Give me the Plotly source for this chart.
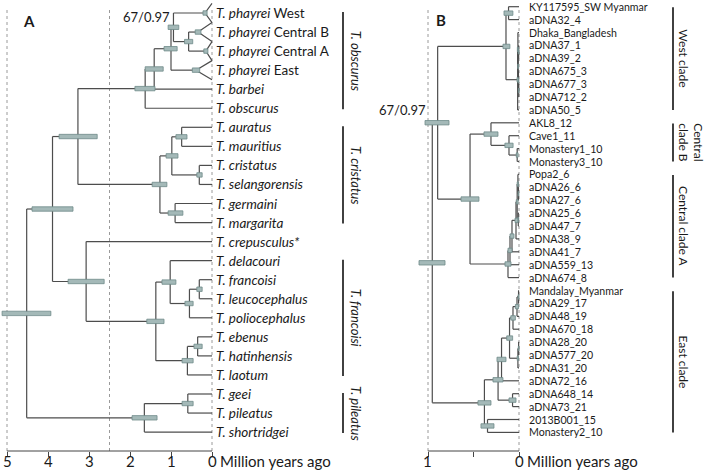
import plotly.graph_objects as go

W, H = 708, 476
FONT = "Lato"

# ======================= Panel A : species tree =======================
a_tip_italic = ["T. phayrei", "T. phayrei", "T. phayrei", "T. phayrei", "T. barbei",
                "T. obscurus", "T. auratus", "T. mauritius", "T. cristatus",
                "T. selangorensis", "T. germaini", "T. margarita", "T. crepusculus*",
                "T. delacouri", "T. francoisi", "T. leucocephalus", "T. poliocephalus",
                "T. ebenus", "T. hatinhensis", "T. laotum", "T. geei", "T. pileatus",
                "T. shortridgei"]
a_tip_suffix = ["West", "Central B", "Central A", "East"] + [""] * 19

# collapsed (triangle) tips: crown age and 95% HPD
a_collapsed_tips = [0, 1, 2, 3]
a_collapsed_age = [0.17, 0.34, 0.15, 0.39]
a_collapsed_lo = [0.12, 0.27, 0.10, 0.30]
a_collapsed_hi = [0.22, 0.41, 0.20, 0.48]

a_node_names = ["cbca", "wcb", "phay", "barb", "obsc", "aurmau", "crisel", "am_cs",
                "germar", "crist", "ob_cr", "fraleu", "flp", "dfl", "ebhat", "ehl",
                "fcore", "crep", "big", "geipil", "pile", "root"]
a_node_age = [0.57, 0.94, 1.00, 1.41, 1.63, 0.74, 0.31, 0.98,
              0.90, 1.27, 3.27, 0.31, 0.55, 1.02, 0.35, 0.60,
              1.37, 3.07, 3.89, 0.59, 1.65, 4.52]
a_node_lo = [0.47, 0.81, 0.85, 1.19, 1.39, 0.61, 0.24, 0.83,
             0.71, 1.10, 2.80, 0.24, 0.46, 0.88, 0.24, 0.46,
             1.17, 2.63, 3.39, 0.46, 1.34, 3.93]
a_node_hi = [0.67, 1.07, 1.17, 1.63, 1.88, 0.88, 0.37, 1.12,
             1.07, 1.46, 3.73, 0.37, 0.66, 1.22, 0.44, 0.73,
             1.59, 3.51, 4.39, 0.73, 1.95, 5.12]
a_node_children = [[1, 2], [0, "cbca"], ["wcb", 3], ["phay", 4], ["barb", 5],
                   [6, 7], [8, 9], ["aurmau", "crisel"], [10, 11], ["am_cs", "germar"],
                   ["obsc", "crist"], [14, 15], ["fraleu", 16], [13, "flp"], [17, 18],
                   ["ebhat", 19], ["dfl", "ehl"], [12, "fcore"], ["ob_cr", "crep"],
                   [20, 21], ["geipil", 22], ["big", "pile"]]

a_clade_labels = ["T. obscurus", "T. cristatus", "T. francoisi", "T. pileatus"]
a_clade_first = [0, 6, 13, 20]
a_clade_last = [5, 11, 19, 22]

a_ticks = [5, 4, 3, 2, 1, 0]
a_tick_text = ["5", "4", "3", "2", "1", "0"]
a_gridlines = [5, 2.5, 0]
a_support_node = "wcb"
a_support_text = "67/0.97"

# ======================= Panel B : haplotype tree =======================
b_tips = ["KY117595_SW Myanmar", "aDNA32_4", "Dhaka_Bangladesh", "aDNA37_1", "aDNA39_2",
          "aDNA675_3", "aDNA677_3", "aDNA712_2", "aDNA50_5", "AKL8_12", "Cave1_11",
          "Monastery1_10", "Monastery3_10", "Popa2_6", "aDNA26_6", "aDNA27_6", "aDNA25_6",
          "aDNA47_7", "aDNA38_9", "aDNA41_7", "aDNA559_13", "aDNA674_8", "Mandalay_Myanmar",
          "aDNA29_17", "aDNA48_19", "aDNA670_18", "aDNA28_20", "aDNA577_20", "aDNA31_20",
          "aDNA72_16", "aDNA648_14", "aDNA73_21", "2013B001_15", "Monastery2_10"]

b_node_names = ["w1", "w5", "w7", "w6", "w4", "w3", "w2", "wroot",
                "cb3", "cb2", "cbroot",
                "a7", "a5", "a6", "a4", "a3", "a2", "a1", "caroot",
                "cbca", "wcc",
                "e7", "e7b", "e5", "e6a", "e6", "e4", "e2", "e3", "e1", "eout", "east",
                "root"]
b_node_age = [0.115, 0.004, 0.003, 0.006, 0.009, 0.012, 0.015, 0.143,
              0.020, 0.110, 0.308,
              0.006, 0.012, 0.008, 0.020, 0.033, 0.077, 0.099, 0.121,
              0.538, 0.894,
              0.005, 0.022, 0.066, 0.004, 0.012, 0.104, 0.192, 0.071, 0.230, 0.346, 0.380,
              0.953]
b_node_lo = [0.067, 0.000, 0.000, 0.002, 0.004, 0.006, 0.008, 0.100,
             0.010, 0.065, 0.231,
             0.002, 0.005, 0.003, 0.010, 0.012, 0.055, 0.077, 0.088,
             0.440, 0.769,
             0.001, 0.005, 0.040, 0.000, 0.005, 0.070, 0.143, 0.033, 0.176, 0.275, 0.308,
             0.813]
b_node_hi = [0.165, 0.008, 0.006, 0.010, 0.014, 0.018, 0.022, 0.176,
             0.030, 0.155, 0.385,
             0.010, 0.020, 0.013, 0.030, 0.044, 0.099, 0.121, 0.154,
             0.637, 1.033,
             0.010, 0.040, 0.090, 0.008, 0.020, 0.135, 0.242, 0.110, 0.286, 0.418, 0.451,
             1.099]
b_node_children = [[0, 1], [3, 4], [6, 7], [5, "w7"], ["w5", "w6"], [2, "w4"], ["w3", 8],
                   ["w1", "w2"],
                   [11, 12], [10, "cb3"], [9, "cb2"],
                   [14, 15], [13, "a7"], [16, 17], ["a5", "a6"], ["a4", 18], ["a3", 19],
                   ["a2", 20], ["a1", 21],
                   ["cbroot", "caroot"], ["wroot", "cbca"],
                   [22, 23], ["e7", 24], ["e7b", 25], [26, 27], ["e6a", 28], ["e5", "e6"],
                   ["e4", 29], [30, 31], ["e2", "e3"], [32, 33], ["e1", "eout"],
                   ["wcc", "east"]]

b_clade_labels = ["West clade", "Central<br>clade B", "Central clade A", "East clade"]
b_clade_first = [0, 9, 13, 22]
b_clade_last = [8, 12, 21, 33]

b_ticks = [1, 0.5, 0]
b_tick_text = ["1", "", "0"]
b_gridlines = [1, 0]
b_support_node = "wcc"
b_support_text = "67/0.97"

# ======================= geometry (pixels) =======================
AXIS_Y = 451          # pixel row of the time axis
TOP_Y = 8             # top of dotted guide lines
TICKLAB_Y = 461       # centre of tick labels
A_ZERO, A_PPM, A_ROW0, A_STEP, A_DOM = 212, 41.0, 13.0, 19.05, (0, 216)
B_ZERO, B_PPM, B_ROW0, B_STEP, B_DOM = 519, 91.0, 6.7, 12.9, (415, 522)

LINE_COLOR = "#4d4d4d"
BOX_FILL = "#a4b9b8"
BOX_LINE = "#6f8a89"
TXT = "#1a1a1a"

fig = go.Figure()
shapes = []
annotations = []


def px2paper_y(p):
    return 1 - p / H


def build(xref, yref, ntips, tip_age, names, ages, los, his, children, box_half, collapsed):
    pos = {i: float(i) for i in range(ntips)}
    age = {i: tip_age[i] for i in range(ntips)}
    xs, ys = [], []
    for nm, ag, lo, hi, ch in zip(names, ages, los, his, children):
        cy = [pos[c] for c in ch]
        y = (min(cy) + max(cy)) / 2
        pos[nm] = y
        age[nm] = ag
        xs += [ag, ag, None]
        ys += [min(cy), max(cy), None]
        for c in ch:
            xs += [ag, age[c], None]
            ys += [pos[c], pos[c], None]
    # collapsed clades drawn as open triangles
    for (t, ag) in collapsed:
        xs += [0, ag, 0, None]
        ys += [t - 0.5, t, t + 0.5, None]
    fig.add_trace(go.Scatter(x=xs, y=ys, mode="lines", xaxis=xref, yaxis=yref,
                             line=dict(color=LINE_COLOR, width=1.2),
                             hoverinfo="skip", showlegend=False))
    for nm, lo, hi in zip(names, los, his):
        shapes.append(dict(type="rect", xref=xref, yref=yref, x0=lo, x1=hi,
                           y0=pos[nm] - box_half, y1=pos[nm] + box_half,
                           fillcolor=BOX_FILL, line=dict(color=BOX_LINE, width=0.8),
                           layer="above"))
    return pos


# ---- Panel A ----
a_tip_age = [0.0] * len(a_tip_italic)
for t, ag in zip(a_collapsed_tips, a_collapsed_age):
    a_tip_age[t] = ag
posA = build("x", "y", len(a_tip_italic), a_tip_age, a_node_names, a_node_age, a_node_lo,
             a_node_hi, a_node_children, 2.2 / A_STEP,
             list(zip(a_collapsed_tips, a_collapsed_age)))
for t, ag, lo, hi in zip(a_collapsed_tips, a_collapsed_age, a_collapsed_lo, a_collapsed_hi):
    shapes.append(dict(type="rect", xref="x", yref="y", x0=lo, x1=hi,
                       y0=t - 2.2 / A_STEP, y1=t + 2.2 / A_STEP,
                       fillcolor=BOX_FILL, line=dict(color=BOX_LINE, width=0.8), layer="above"))

# ---- Panel B ----
posB = build("x2", "y2", len(b_tips), [0.0] * len(b_tips), b_node_names, b_node_age,
             b_node_lo, b_node_hi, b_node_children, 2.2 / B_STEP, [])

# ---- tip labels ----
for i, (it, sf) in enumerate(zip(a_tip_italic, a_tip_suffix)):
    txt = "<i>%s</i>" % it + ((" " + sf) if sf else "")
    annotations.append(dict(x=0, y=i, xref="x", yref="y", text=txt, showarrow=False,
                            xanchor="left", yanchor="middle", xshift=2,
                            font=dict(family=FONT, size=13.5, color=TXT)))
for i, lab in enumerate(b_tips):
    annotations.append(dict(x=0, y=i, xref="x2", yref="y2", text=lab, showarrow=False,
                            xanchor="left", yanchor="middle", xshift=8,
                            font=dict(family=FONT, size=10.6, color=TXT)))

# ---- clade bars and labels ----
for lab, f, l in zip(a_clade_labels, a_clade_first, a_clade_last):
    shapes.append(dict(type="line", xref="paper", yref="y", x0=343 / W, x1=343 / W,
                       y0=f - 0.05, y1=l + 0.05, line=dict(color="#111", width=1.6)))
    annotations.append(dict(x=356 / W, y=(f + l) / 2, xref="paper", yref="y",
                            text="<i>%s</i>" % lab, textangle=90, showarrow=False,
                            xanchor="center", yanchor="middle",
                            font=dict(family=FONT, size=13, color=TXT)))
for lab, f, l in zip(b_clade_labels, b_clade_first, b_clade_last):
    shapes.append(dict(type="line", xref="paper", yref="y2", x0=673 / W, x1=673 / W,
                       y0=f + 0.05, y1=l, line=dict(color="#111", width=1.6)))
    xl = 691 if "<br>" in lab else 684
    annotations.append(dict(x=xl / W, y=(f + l) / 2, xref="paper", yref="y2",
                            text=lab, textangle=90, showarrow=False,
                            xanchor="center", yanchor="middle",
                            font=dict(family=FONT, size=12, color=TXT)))

# ---- dotted guide lines and axis lines ----
for g in a_gridlines:
    shapes.append(dict(type="line", xref="x", yref="paper", x0=g, x1=g,
                       y0=px2paper_y(AXIS_Y), y1=px2paper_y(TOP_Y),
                       line=dict(color="#9a9a9a", width=1, dash="dot"), layer="below"))
for g in b_gridlines:
    shapes.append(dict(type="line", xref="x2", yref="paper", x0=g, x1=g,
                       y0=px2paper_y(AXIS_Y), y1=px2paper_y(TOP_Y),
                       line=dict(color="#9a9a9a", width=1, dash="dot"), layer="below"))
shapes.append(dict(type="line", xref="x", yref="paper", x0=max(a_ticks), x1=min(a_ticks),
                   y0=px2paper_y(AXIS_Y), y1=px2paper_y(AXIS_Y),
                   line=dict(color="#444", width=1)))
shapes.append(dict(type="line", xref="x2", yref="paper", x0=max(b_ticks), x1=min(b_ticks),
                   y0=px2paper_y(AXIS_Y), y1=px2paper_y(AXIS_Y),
                   line=dict(color="#444", width=1)))

# tick labels (placed on the axis scale)
for xr, tv, tt in [("x", a_ticks, a_tick_text), ("x2", b_ticks, b_tick_text)]:
    for v, s in zip(tv, tt):
        if s:
            annotations.append(dict(x=v, y=px2paper_y(TICKLAB_Y), xref=xr, yref="paper",
                                    text=s, showarrow=False, xanchor="center",
                                    yanchor="middle",
                                    font=dict(family=FONT, size=15, color=TXT)))
    # "Million years ago" after the 0 tick
    annotations.append(dict(x=0, y=px2paper_y(TICKLAB_Y), xref=xr, yref="paper",
                            text="Million years ago", showarrow=False, xanchor="left",
                            yanchor="middle", xshift=6,
                            font=dict(family=FONT, size=15, color=TXT)))

# support values
annotations.append(dict(x=a_node_age[a_node_names.index(a_support_node)],
                        y=posA[a_support_node], xref="x", yref="y", text=a_support_text,
                        showarrow=False, xanchor="right", yanchor="middle",
                        xshift=-1, yshift=10, font=dict(family=FONT, size=13, color=TXT)))
annotations.append(dict(x=b_node_hi[b_node_names.index(b_support_node)],
                        y=posB[b_support_node], xref="x2", yref="y2", text=b_support_text,
                        showarrow=False, xanchor="right", yanchor="middle",
                        xshift=3, yshift=13, font=dict(family=FONT, size=13, color=TXT)))

# panel letters
annotations.append(dict(x=29 / W, y=px2paper_y(21), xref="paper", yref="paper", text="<b>A</b>",
                        showarrow=False, xanchor="center", yanchor="middle",
                        font=dict(family=FONT, size=15, color=TXT)))
annotations.append(dict(x=441 / W, y=px2paper_y(20), xref="paper", yref="paper", text="<b>B</b>",
                        showarrow=False, xanchor="center", yanchor="middle",
                        font=dict(family=FONT, size=15, color=TXT)))

axis_common = dict(showgrid=False, zeroline=False, showline=False, ticks="outside",
                   ticklen=5, tickcolor="#444", tickwidth=1, showticklabels=False,
                   fixedrange=True)
fig.update_layout(
    width=W, height=H, margin=dict(l=0, r=0, t=0, b=0),
    paper_bgcolor="white", plot_bgcolor="white", showlegend=False,
    xaxis=dict(domain=[A_DOM[0] / W, A_DOM[1] / W],
               range=[(A_ZERO - A_DOM[0]) / A_PPM, (A_ZERO - A_DOM[1]) / A_PPM],
               tickvals=a_ticks, anchor="y", **axis_common),
    yaxis=dict(domain=[1 - AXIS_Y / H, 1],
               range=[(AXIS_Y - A_ROW0) / A_STEP, (0 - A_ROW0) / A_STEP],
               visible=False, anchor="x", fixedrange=True),
    xaxis2=dict(domain=[B_DOM[0] / W, B_DOM[1] / W],
                range=[(B_ZERO - B_DOM[0]) / B_PPM, (B_ZERO - B_DOM[1]) / B_PPM],
                tickvals=b_ticks, anchor="y2", **axis_common),
    yaxis2=dict(domain=[1 - AXIS_Y / H, 1],
                range=[(AXIS_Y - B_ROW0) / B_STEP, (0 - B_ROW0) / B_STEP],
                visible=False, anchor="x2", fixedrange=True),
    shapes=shapes, annotations=annotations,
)

fig.write_html("out.html", config={"displayModeBar": False},
               post_script="document.body.style.margin='0px';")
